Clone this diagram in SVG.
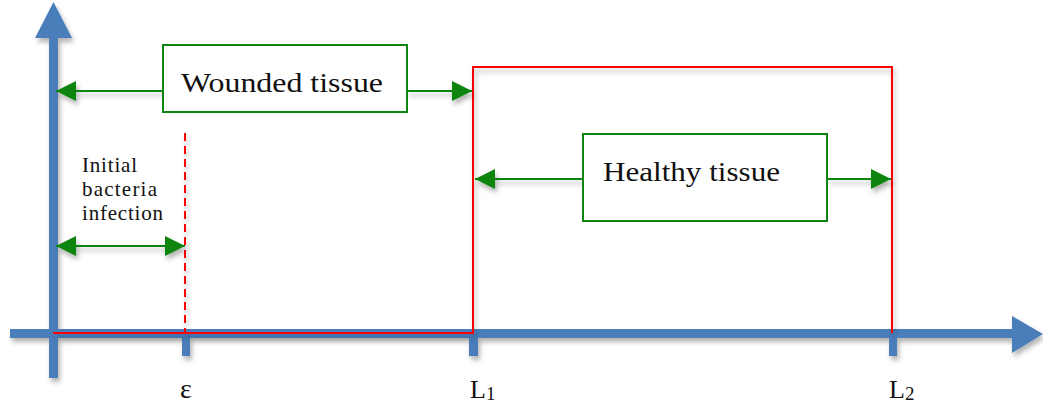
<svg xmlns="http://www.w3.org/2000/svg" width="1043" height="414" viewBox="0 0 1043 414">
<style>
.axis{fill:#4a7ebb}
.red{fill:none;stroke:#ff0000;stroke-width:2}
.box{fill:#fff;stroke:#108410;stroke-width:2}
.garr{fill:none;stroke:#108410;stroke-width:2}
.lbl{font-family:"Liberation Serif","DejaVu Serif",serif;fill:#111}
</style>
<defs>
<filter id="sh" x="-10%" y="-10%" width="130%" height="140%">
<feDropShadow dx="2" dy="4" stdDeviation="2.5" flood-color="#000" flood-opacity="0.3"/>
</filter>
<marker id="ah" viewBox="0 0 20 20" refX="20" refY="10" markerWidth="20" markerHeight="20" markerUnits="userSpaceOnUse" orient="auto-start-reverse">
<path d="M0,0 L20,10 L0,20 Z" fill="#108410"/>
</marker>
</defs>
<g id="axes" filter="url(#sh)">
<rect class="axis" x="49" y="36" width="9" height="342"/>
<path class="axis" d="M53.5,2 L72,38 L35,38 Z"/>
<rect class="axis" x="10" y="329" width="1004" height="9"/>
<path class="axis" d="M1043,334 L1012,316 L1012,353 Z"/>
<rect class="axis" x="182" y="333" width="8" height="23"/>
<rect class="axis" x="469" y="333" width="9" height="23"/>
<rect class="axis" x="889" y="333" width="8" height="23"/>
</g>
<g id="regions" filter="url(#sh)">
<path class="red" d="M53,333 L473,333 L473,67 L892,67 L892,333"/>
<line x1="185" y1="133" x2="185" y2="333" stroke="#ff0000" stroke-width="2" stroke-dasharray="8,5"/>
</g>
<g id="connectors" filter="url(#sh)">
<line class="garr" x1="163" y1="91" x2="56" y2="91" marker-end="url(#ah)"/>
<line class="garr" x1="407" y1="91" x2="472" y2="91" marker-end="url(#ah)"/>
<line class="garr" x1="583" y1="179" x2="475" y2="179" marker-end="url(#ah)"/>
<line class="garr" x1="827" y1="179" x2="891" y2="179" marker-end="url(#ah)"/>
<line class="garr" x1="56" y1="246" x2="185" y2="246" marker-start="url(#ah)" marker-end="url(#ah)"/>
</g>
<g id="wounded">
<rect class="box" x="163" y="45" width="244" height="67"/>
<text class="lbl" x="181" y="92" font-size="28" textLength="202" lengthAdjust="spacingAndGlyphs">Wounded tissue</text>
</g>
<g id="healthy">
<rect class="box" x="583" y="134" width="244" height="87"/>
<text class="lbl" x="603" y="181" font-size="28" textLength="177" lengthAdjust="spacingAndGlyphs">Healthy tissue</text>
</g>
<g id="initial">
<text class="lbl" font-size="21" lengthAdjust="spacingAndGlyphs"><tspan x="82" y="172" textLength="55">Initial</tspan><tspan x="82" y="196" textLength="75">bacteria</tspan><tspan x="82" y="220" textLength="81">infection</tspan></text>
</g>
<g id="ticklabels">
<text class="lbl" x="186" y="398" font-size="28" text-anchor="middle">ε</text>
<text class="lbl" x="470" y="398" font-size="26">L<tspan font-size="19" dy="2">1</tspan></text>
<text class="lbl" x="889" y="398" font-size="26">L<tspan font-size="19" dy="2">2</tspan></text>
</g>
</svg>
